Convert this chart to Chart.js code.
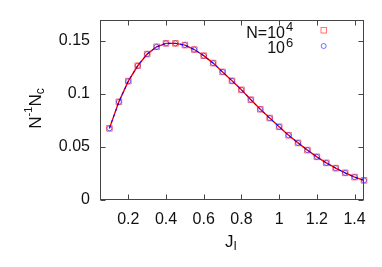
<!DOCTYPE html>
<html>
<head>
<meta charset="utf-8">
<script src="https://cdn.jsdelivr.net/npm/chart.js@4"></script>
<style>
  html, body { margin: 0; padding: 0; background: #fff; }
  #chart { display: block; }
</style>
</head>
<body>
<canvas id="chart" width="382" height="267"></canvas>
<script>
// values
const jValues = [0.10, 0.15, 0.20, 0.25, 0.30, 0.35, 0.40, 0.45, 0.50, 0.55,
  0.60, 0.65, 0.70, 0.75, 0.80, 0.85, 0.90, 0.95, 1.00, 1.05,
  1.10, 1.15, 1.20, 1.25, 1.30, 1.35, 1.40, 1.45];
const ncN1e4 = [0.0675, 0.0925, 0.1120, 0.1265, 0.1375, 0.1444, 0.1476, 0.1476, 0.1460, 0.1418,
  0.1360, 0.1290, 0.1207, 0.1123, 0.1038, 0.0945, 0.0855, 0.0772, 0.0690, 0.0610,
  0.0538, 0.0470, 0.0407, 0.0350, 0.0300, 0.0256, 0.0216, 0.0185];
const ncN1e6 = [0.0675, 0.0924, 0.1119, 0.1265, 0.1375, 0.1444, 0.1476, 0.1476, 0.1460, 0.1418,
  0.1360, 0.1290, 0.1207, 0.1123, 0.1038, 0.0945, 0.0855, 0.0772, 0.0690, 0.0610,
  0.0538, 0.0470, 0.0407, 0.0350, 0.0300, 0.0256, 0.0216, 0.0185];
const xTicks = [0.2, 0.4, 0.6, 0.8, 1.0, 1.2, 1.4];
const yTicks = [0, 0.05, 0.1, 0.15];

const FONT = "'Liberation Sans', Arial, Helvetica, sans-serif";
const RED = "rgba(255, 0, 0, 0.55)";
const BLUE = "rgba(0, 0, 255, 0.55)";

const toPoints = (ys) => jValues.map((x, i) => ({ x: x, y: ys[i] }));

// draw a run of [text, size, rise] pieces starting at (x, y)
const drawPieces = (ctx, pieces, x, y) => {
  pieces.forEach(([txt, size, rise]) => {
    ctx.font = size + "px " + FONT;
    ctx.fillText(txt, x, y - rise);
    x += ctx.measureText(txt).width;
  });
};
const piecesWidth = (ctx, pieces) => pieces.reduce((w, [txt, size]) => {
  ctx.font = size + "px " + FONT;
  return w + ctx.measureText(txt).width;
}, 0);

const framePlugin = {
  id: "frame",
  afterDatasetsDraw(chart) {
    const { ctx, chartArea: a, scales } = chart;
    const L = Math.round(a.left) + 0.5, R = Math.round(a.right) - 0.5;
    const T = Math.round(a.top) + 0.5, B = Math.round(a.bottom) - 0.5;
    ctx.save();
    ctx.strokeStyle = "#444";
    ctx.lineWidth = 1;
    ctx.strokeRect(L, T, R - L, B - T);
    const tl = 5;
    ctx.beginPath();
    xTicks.forEach((v) => {
      const px = Math.round(scales.x.getPixelForValue(v)) + 0.5;
      ctx.moveTo(px, B); ctx.lineTo(px, B - tl);
      ctx.moveTo(px, T); ctx.lineTo(px, T + tl);
    });
    yTicks.forEach((v) => {
      const py = Math.round(scales.y.getPixelForValue(v)) + 0.5;
      ctx.moveTo(L, py); ctx.lineTo(L + tl, py);
      ctx.moveTo(R, py); ctx.lineTo(R - tl, py);
    });
    ctx.stroke();

    // legend
    ctx.fillStyle = "#111";
    ctx.textBaseline = "alphabetic";
    ctx.textAlign = "left";
    const l1 = [["N=10", 16, 0]], l2 = [["10", 16, 0]];
    const textRight = 285;
    drawPieces(ctx, l1, textRight - piecesWidth(ctx, l1), 37.5);
    drawPieces(ctx, [["4", 13, 6.5]], textRight + 1, 37.5);
    drawPieces(ctx, l2, textRight - piecesWidth(ctx, l2), 53);
    drawPieces(ctx, [["6", 13, 6.5]], textRight + 1, 53);
    ctx.lineWidth = 1;
    ctx.strokeStyle = RED;
    ctx.strokeRect(321, 27.5, 5.5, 5.5);
    ctx.strokeStyle = BLUE;
    ctx.beginPath();
    ctx.arc(323.7, 46, 2.5, 0, Math.PI * 2);
    ctx.stroke();

    // axis titles
    ctx.fillStyle = "#111";
    const yTitle = [["N", 17, 0], ["-1", 11, 9], ["N", 17, 0], ["c", 12, -3]];
    const yw = piecesWidth(ctx, yTitle);
    ctx.save();
    ctx.translate(41, 108.5);
    ctx.rotate(-Math.PI / 2);
    drawPieces(ctx, yTitle, -yw / 2, 0);
    ctx.restore();
    const xTitle = [["J", 17, 0], ["I", 12, -2.5]];
    drawPieces(ctx, xTitle, 231 - piecesWidth(ctx, xTitle) / 2, 247);
    ctx.restore();
  },
};

new Chart(document.getElementById("chart"), {
  type: "scatter",
  data: {
    datasets: [
      {
        label: "N=10^4",
        data: toPoints(ncN1e4),
        order: 1,
        showLine: true,
        borderColor: "#ff0000",
        borderWidth: 1.4,
        pointStyle: "rect",
        pointRadius: 4,
        pointBorderColor: RED,
        pointBackgroundColor: "rgba(0,0,0,0)",
        pointBorderWidth: 1,
        clip: false,
      },
      {
        label: "10^6",
        data: toPoints(ncN1e6),
        order: 0,
        showLine: true,
        borderColor: "#0000ff",
        borderWidth: 1,
        borderDash: [3, 3],
        pointStyle: "circle",
        pointRadius: 2.5,
        pointBorderColor: BLUE,
        pointBackgroundColor: "rgba(0,0,0,0)",
        pointBorderWidth: 1,
        clip: false,
      },
    ],
  },
  options: {
    responsive: false,
    animation: false,
    devicePixelRatio: 1,
    layout: { padding: { top: 19, right: 18, left: 0, bottom: 0 } },
    plugins: { legend: { display: false }, tooltip: { enabled: false } },
    scales: {
      x: {
        type: "linear",
        min: 0.05,
        max: 1.45,
        afterBuildTicks: (s) => { s.ticks = xTicks.map((v) => ({ value: v })); },
        afterFit: (s) => { s.height = 67; },
        grid: { display: false, drawTicks: false },
        border: { display: false },
        ticks: {
          padding: 10,
          color: "#111",
          font: { family: FONT, size: 16 },
          maxRotation: 0,
          callback: (v) => String(+v.toFixed(2)),
        },
      },
      y: {
        type: "linear",
        min: 0,
        max: 0.17,
        afterBuildTicks: (s) => { s.ticks = yTicks.map((v) => ({ value: v })); },
        afterFit: (s) => { s.width = 100; },
        grid: { display: false, drawTicks: false },
        border: { display: false },
        ticks: {
          padding: 10,
          color: "#111",
          font: { family: FONT, size: 16 },
          callback: (v) => String(+v.toFixed(2)),
        },
      },
    },
  },
  plugins: [framePlugin],
});
</script>
</body>
</html>
